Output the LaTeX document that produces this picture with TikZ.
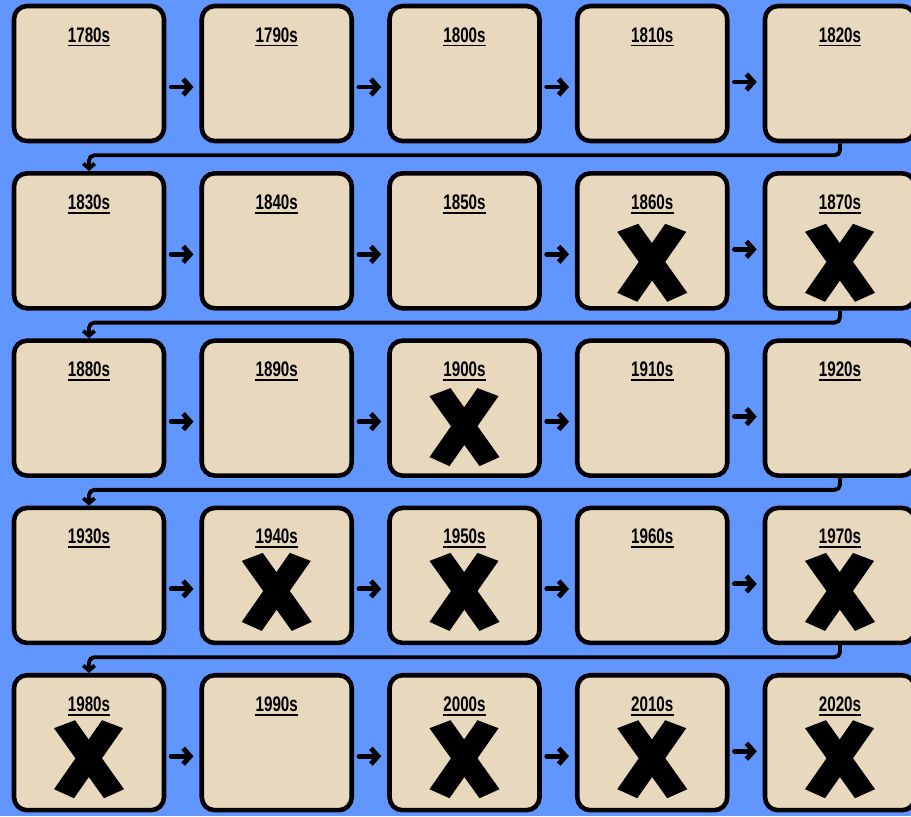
\documentclass[tikz,border=0pt]{standalone}
\usepackage{fontspec}
\newfontfamily\decadefont[FakeStretch=0.72]{Liberation Sans}
\usetikzlibrary{arrows.meta}

\definecolor{sky}{RGB}{98,150,255}
\definecolor{sand}{RGB}{232,217,190}

\tikzset{
  decade/.style={draw, fill=sand, line width=2.6pt, rounded corners=7.4pt,
                 minimum width=3cm, minimum height=2.7cm, inner sep=0pt},
  ttl/.style={font=\decadefont\bfseries\fontsize{12}{14}\selectfont,
              inner sep=0pt, anchor=base},
  nxt/.style={line width=2.8pt, line cap=round,
              -{Straight Barb[length=4pt,width=9pt]}},
  wrap/.style={line width=2.2pt, rounded corners=3pt,
               -{Straight Barb[length=2.8pt,width=6.5pt]}}
}

% big X over a decade box, #2 = drop below the box centre
\newcommand{\crossout}[2]{%
  \begin{scope}[shift={(#1.center)}, shift={(0,#2)}]
    \fill (-35,-31) -- (-14,-39) -- (35,30) -- (15,39) -- cycle;
    \fill (13,-39) -- (34,-31) -- (-15,39) -- (-35,30) -- cycle;
  \end{scope}}

\begin{document}
\begin{tikzpicture}[x=0.02cm, y=-0.02cm]
  \useasboundingbox (0,0) rectangle (911,816);
  \fill[sky] (0,0) rectangle (911,816);
  \clip (0,0) rectangle (911,816);

  % the boxes
  \foreach \yr [count=\i from 0] in {1780,1790,...,2020} {
    \pgfmathtruncatemacro\col{mod(\i,5)}
    \pgfmathtruncatemacro\row{int(\i/5)}
    \node[decade] (b\i) at (89+187.75*\col, 73.5+167.3*\row) {};
    \node[ttl] (t\i) at ([shift={(0,-31.5)}]b\i.center) {\yr s};
    \draw[line width=1.1pt] ([shift={(0,3.5)}]t\i.base west) -- ([shift={(0,3.5)}]t\i.base east);
  }

  % arrows along each row
  \foreach \r in {0,...,4}
    \foreach \c in {0,...,3} {
      \pgfmathtruncatemacro\a{5*\r+\c}
      \pgfmathtruncatemacro\b{\a+1}
      \pgfmathsetmacro\dy{\c==3 ? 8.5 : 13.5}
      \draw[nxt] ([shift={(5,\dy)}]b\a.east) -- ([shift={(-6,\dy)}]b\b.west);
    }

  % wrap to the next row
  \foreach \r in {0,...,3} {
    \pgfmathtruncatemacro\a{5*\r+4}
    \pgfmathtruncatemacro\b{5*\r+5}
    \draw[wrap] (b\a.south) -- ++(0,12) -| (b\b.north);
  }

  \foreach \k/\d in {8/22,9/22,12/19,16/16.5,17/16.5,19/16.5,20/16.5,22/16.5,23/16.5,24/16.5}
    \crossout{b\k}{\d};
\end{tikzpicture}
\end{document}
